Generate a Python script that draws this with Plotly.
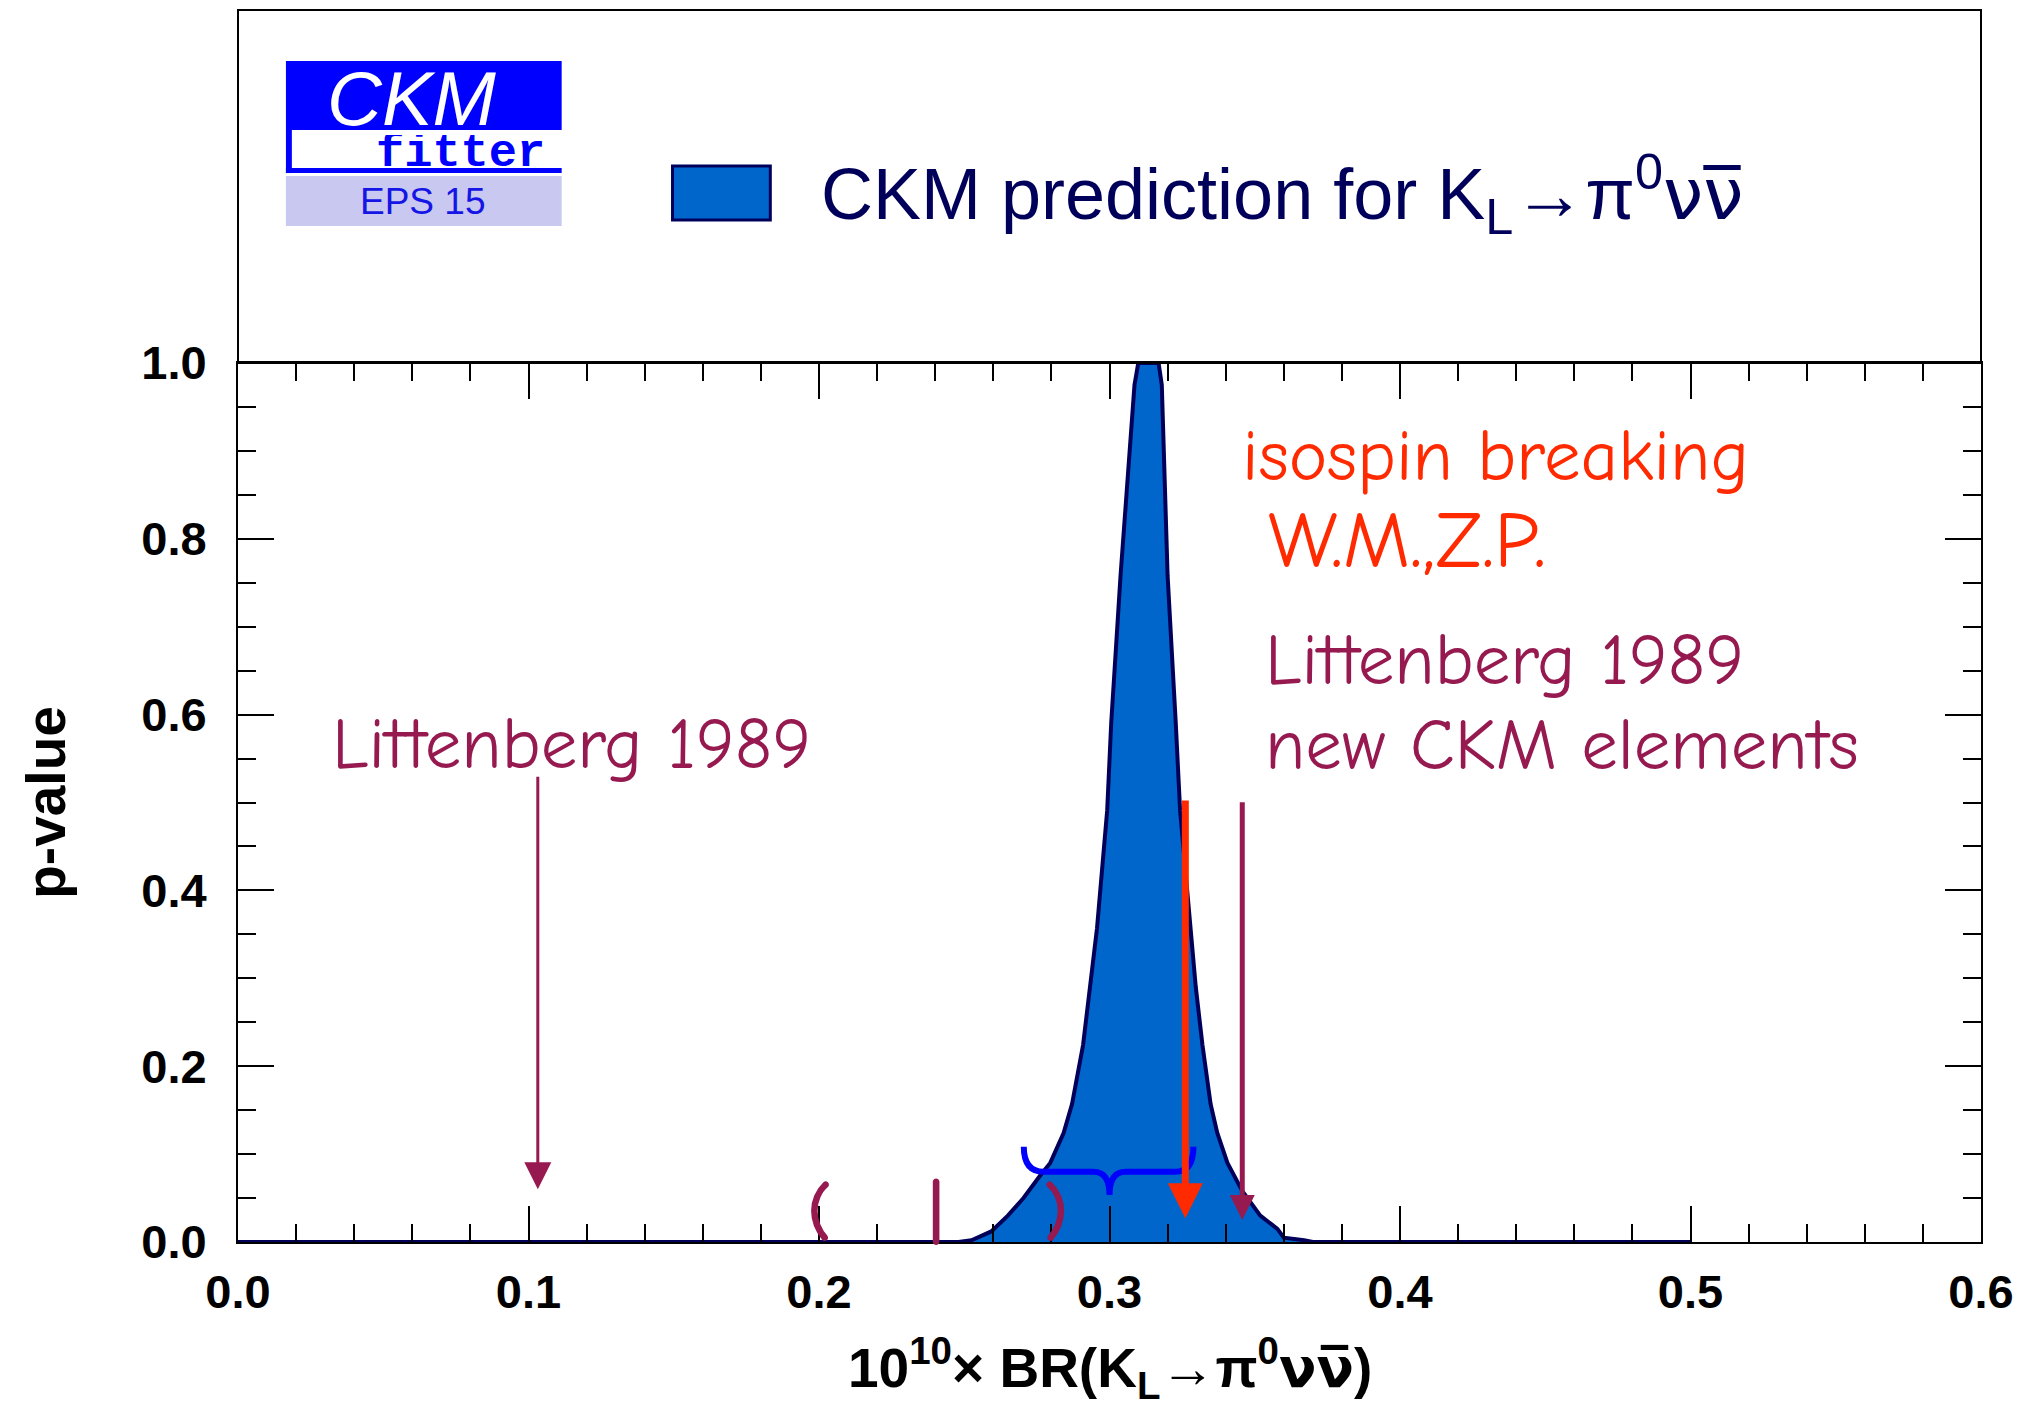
import plotly.graph_objects as go

# ---------------- data ----------------
br_values = [0.0, 0.2480, 0.2525, 0.2593, 0.2650, 0.2704, 0.2760, 0.2796, 0.2842, 0.2871,
             0.2909, 0.2934, 0.2957, 0.2992, 0.3006, 0.3038, 0.3074, 0.3086, 0.3099,
             0.3169, 0.3180, 0.3188, 0.3200, 0.3228, 0.3243, 0.3279, 0.3297, 0.3320,
             0.3348, 0.3371, 0.3406, 0.3457, 0.3519, 0.3578, 0.3600, 0.3670, 0.3700, 0.5]
p_values = [0.0, 0.0, 0.002, 0.012, 0.030, 0.050, 0.075, 0.090, 0.124, 0.157,
            0.224, 0.290, 0.357, 0.491, 0.591, 0.758, 0.911, 0.975, 1.0,
            1.0, 0.975, 0.900, 0.758, 0.591, 0.491, 0.357, 0.290, 0.224,
            0.157, 0.124, 0.090, 0.058, 0.030, 0.015, 0.005, 0.002, 0.0, 0.0]

x_ticks = [0.0, 0.1, 0.2, 0.3, 0.4, 0.5, 0.6]
x_tick_labels = ["0.0", "0.1", "0.2", "0.3", "0.4", "0.5", "0.6"]
y_ticks = [0.0, 0.2, 0.4, 0.6, 0.8, 1.0]
y_tick_labels = ["0.0", "0.2", "0.4", "0.6", "0.8", "1.0"]

# annotation markers (BR positions)
littenberg_old = 0.1032
isospin_wmzp = 0.3261
littenberg_new = 0.3457
paren_open, bar_mark, paren_close = 0.200, 0.2404, 0.2816

# ---------------- styles ----------------
FILL = "#0066CC"
NAVY = "#00005A"
MAROON = "#961A50"
RED = "#FF2A00"
BLUE = "#0000FF"
AX_FONT = "Liberation Sans, Arial, Helvetica, sans-serif"
COMIC = "Comic Sans MS, Comic Neue, Noto Sans, sans-serif"
NUBAR = "<span style='font-family:DejaVu Sans'>\u03bd\u03bd\u0305</span>"

fig = go.Figure()
fig.add_trace(go.Scatter(
    x=br_values, y=p_values, mode="lines", fill="tozeroy",
    fillcolor=FILL, line=dict(color=NAVY, width=4),
    showlegend=False, hoverinfo="skip"))

def axis_common(size):
    return dict(
        showline=True, linecolor="black", linewidth=2, mirror="ticks",
        ticks="inside", ticklen=36, tickwidth=2, tickcolor="black",
        showgrid=False, zeroline=False,
        tickfont=dict(family=AX_FONT, size=size, color="black", weight="bold"),
    )

fig.update_xaxes(range=[0, 0.6], tickmode="array", tickvals=x_ticks, ticktext=x_tick_labels,
                 ticklabelstandoff=8,
                 minor=dict(ticks="inside", ticklen=18, tickwidth=2, tickcolor="black",
                            dtick=0.02, tick0=0, showgrid=False),
                 **axis_common(47))
fig.update_yaxes(range=[0, 1], tickmode="array", tickvals=y_ticks, ticktext=y_tick_labels,
                 ticklabelstandoff=20,
                 minor=dict(ticks="inside", ticklen=18, tickwidth=2, tickcolor="black",
                            dtick=0.05, tick0=0, showgrid=False),
                 **axis_common(47))

shapes = []
# upper box (logo + legend area)
shapes.append(dict(type="rect", xref="paper", yref="paper", x0=0, x1=1, y0=1, y1=1.4016,
                   line=dict(color="black", width=2), fillcolor="rgba(0,0,0,0)"))
# CKMfitter logo
shapes.append(dict(type="rect", xref="paper", yref="paper", x0=0.0275, x1=0.1857, y0=1.2651, y1=1.3436,
                   line=dict(width=0), fillcolor=BLUE))
shapes.append(dict(type="rect", xref="paper", yref="paper", x0=0.0275, x1=0.0309, y0=1.2161, y1=1.2651,
                   line=dict(width=0), fillcolor=BLUE))
shapes.append(dict(type="rect", xref="paper", yref="paper", x0=0.0275, x1=0.1857, y0=1.1559, y1=1.2127,
                   line=dict(width=0), fillcolor="#C8C8F0"))
# legend box
shapes.append(dict(type="rect", xref="paper", yref="paper", x0=0.2493, x1=0.3054, y0=1.1627, y1=1.2241,
                   line=dict(color=NAVY, width=3), fillcolor=FILL))
# blue curly brace
brace = ("M 0.2705,0.1083 Q 0.2705,0.0799 0.2773,0.0799 L 0.2945,0.0799 "
         "Q 0.3000,0.0799 0.3000,0.0535 Q 0.3000,0.0799 0.3055,0.0799 "
         "L 0.3227,0.0799 Q 0.3289,0.0799 0.3289,0.1083")
shapes.append(dict(type="path", xref="x", yref="y", path=brace, layer="above",
                   line=dict(color=BLUE, width=6)))

annotations = []
# logo texts
annotations.append(dict(xref="paper", yref="paper", x=0.0997, y=1.302, text="<i>CKM</i>",
                        showarrow=False, xanchor="center", yanchor="middle", height=66,
                        font=dict(family=AX_FONT, size=76, color="white")))
annotations.append(dict(xref="paper", yref="paper", x=0.1275, y=1.2385, text="<b>fitter</b>",
                        showarrow=False, xanchor="center", yanchor="middle", height=36,
                        font=dict(family="Liberation Mono, Courier New, monospace", size=47, color=BLUE)))
annotations.append(dict(xref="paper", yref="paper", x=0.106, y=1.1832, text="EPS 15",
                        showarrow=False, xanchor="center", yanchor="middle",
                        font=dict(family=AX_FONT, size=37, color="#1515E6")))
# legend text
annotations.append(dict(xref="paper", yref="paper", x=0.3332, y=1.192,
                        text="CKM prediction for K<sub>L</sub>\u2192\u03c0<sup>0</sup>" + NUBAR,
                        showarrow=False, xanchor="left", yanchor="middle",
                        font=dict(family=AX_FONT, size=72, color=NAVY)))
# axis titles
annotations.append(dict(xref="paper", yref="paper", x=0.5, y=-0.143,
                        text="<b>10<sup>10</sup>\u00d7 BR(K<sub>L</sub>\u2192\u03c0<sup>0</sup>" + NUBAR + ")</b>",
                        showarrow=False, xanchor="center", yanchor="middle",
                        font=dict(family=AX_FONT, size=55, color="black")))
annotations.append(dict(xref="paper", yref="paper", x=-0.1106, y=0.5, text="<b>p-value</b>",
                        textangle=-90, showarrow=False, xanchor="center", yanchor="middle",
                        font=dict(family=AX_FONT, size=55, color="black")))
# comic texts
def comic(x, y, text, color, size=73):
    annotations.append(dict(xref="x", yref="y", x=x, y=y, text=text, showarrow=False,
                            xanchor="left", yanchor="middle",
                            font=dict(family=COMIC, size=size, color=color)))

comic(0.0315, 0.566, "Littenberg 1989", MAROON)
comic(0.3450, 0.894, "isospin breaking", RED)
comic(0.3537, 0.797, "W.M.,Z.P.", RED, 80)
comic(0.3528, 0.662, "Littenberg 1989", MAROON)
comic(0.3528, 0.565, "new CKM elements", MAROON)

# brackets on the axis
for xv, ch in [(paren_open, "("), (bar_mark, "|"), (paren_close, ")")]:
    annotations.append(dict(xref="x", yref="y", x=xv, y=0.034, text=ch, showarrow=False,
                            xanchor="center", yanchor="middle",
                            font=dict(family=COMIC, size=68, color=MAROON, weight="bold")))

# arrows
def arrow(xv, y_tip, y_tail, color, width, size):
    annotations.append(dict(xref="x", yref="y", axref="x", ayref="y",
                            x=xv, y=y_tip, ax=xv, ay=y_tail, text="",
                            showarrow=True, arrowhead=2, arrowsize=size,
                            arrowwidth=width, arrowcolor=color, standoff=0, startstandoff=0))

arrow(littenberg_old, 0.060, 0.531, MAROON, 3, 1.8)
arrow(isospin_wmzp, 0.027, 0.504, RED, 7, 1.0)
arrow(littenberg_new, 0.025, 0.502, MAROON, 5, 1.0)

# bottom border of the white logo band drawn over the "fitter" letters
fig.add_shape(type="rect", xref="paper", yref="paper", x0=0.0275, x1=0.1857, y0=1.2161, y1=1.2218,
              line=dict(width=0), fillcolor=BLUE, layer="above")

fig.update_layout(
    width=2026, height=1416, autosize=False,
    margin=dict(l=238, r=43, t=363, b=174, pad=0),
    paper_bgcolor="white", plot_bgcolor="white",
    annotations=annotations, showlegend=False,
)
for s in shapes:
    fig.add_shape(**s)

fig.write_html("out.html")
